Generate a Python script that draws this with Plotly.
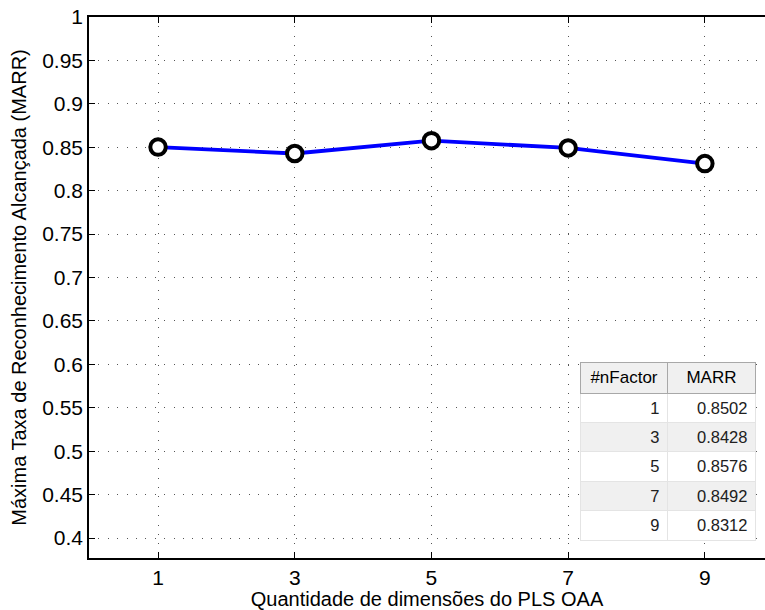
import plotly.graph_objects as go

n_factor = [1, 3, 5, 7, 9]
marr = [0.8502, 0.8428, 0.8576, 0.8492, 0.8312]
y_ticks = [0.4, 0.45, 0.5, 0.55, 0.6, 0.65, 0.7, 0.75, 0.8, 0.85, 0.9, 0.95, 1]
y_tick_text = ["0.4", "0.45", "0.5", "0.55", "0.6", "0.65", "0.7", "0.75", "0.8", "0.85", "0.9", "0.95", "1"]
table_header = ["#nFactor", "MARR"]

fig = go.Figure()
fig.add_trace(go.Scatter(
    x=n_factor, y=marr, mode="lines+markers",
    line=dict(color="#0000ff", width=3.8),
    marker=dict(symbol="circle", size=15.5, color="white",
                line=dict(color="black", width=4)),
    showlegend=False, cliponaxis=False,
))

fig.add_trace(go.Table(
    domain=dict(x=[0.727, 0.986], y=[0.031, 0.362]),
    columnwidth=[87, 88],
    header=dict(values=table_header,
                fill_color="#f0f0f0",
                line=dict(color="#a8a8a8", width=1),
                align="center", height=31,
                font=dict(family="Liberation Sans", size=17, color="#000000")),
    cells=dict(values=[[str(v) for v in n_factor], [f"{v:.4f}" for v in marr]],
               fill_color=[["white", "#f0f0f0", "white", "#f0f0f0", "white"]] * 2,
               line=dict(color="#e4e4e4", width=1),
               align="right", height=29.4,
               font=dict(family="Liberation Sans", size=16.5, color="#202020")),
))

tick_font = dict(family="Liberation Sans", size=21, color="black")
title_font = dict(family="Liberation Sans", size=20, color="black")
grid = dict(showgrid=True, gridcolor="#555555", griddash="1px,8.4px", gridwidth=1)
fig.update_layout(
    width=765, height=610,
    margin=dict(l=89, r=0, t=17, b=52),
    paper_bgcolor="white", plot_bgcolor="white",
    font=title_font,
    xaxis=dict(
        range=[-0.01, 9.88], tickvals=n_factor, ticktext=[str(v) for v in n_factor],
        ticks="inside", ticklen=6, tickcolor="black", mirror="ticks",
        showline=True, linecolor="black", linewidth=1.5,
        zeroline=False, tickfont=tick_font, **grid,
        title=dict(text="Quantidade de dimensões do PLS OAA", font=title_font, standoff=3),
    ),
    yaxis=dict(
        range=[0.377, 1.0], tickvals=y_ticks, ticktext=y_tick_text,
        ticks="inside", ticklen=6, tickcolor="black", mirror=False,
        showline=True, linecolor="black", linewidth=1.5,
        zeroline=False, tickfont=tick_font, **grid,
        title=dict(text="Máxima Taxa de Reconhecimento Alcançada (MARR)", font=title_font, standoff=10),
    ),
)

fig.write_html("out.html")
